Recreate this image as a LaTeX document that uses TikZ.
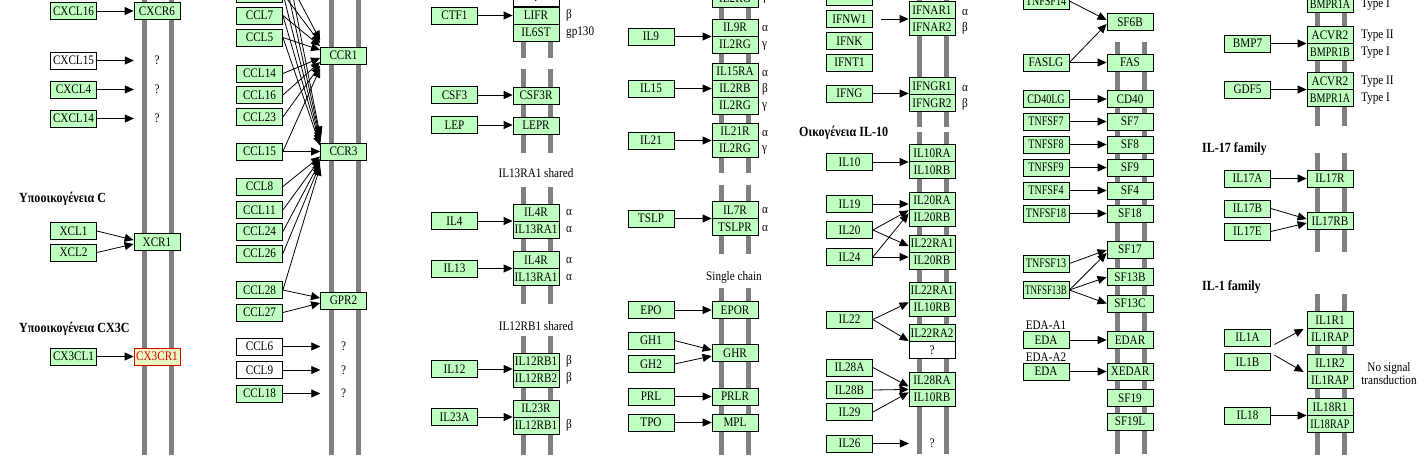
\documentclass[tikz,border=0pt]{standalone}
\usepackage{fontspec}
\setmainfont{Liberation Serif}[FakeStretch=0.86]
\usepackage{graphicx}
\usetikzlibrary{arrows.meta,calc}
\definecolor{kg}{HTML}{BFFFBF}
\definecolor{barc}{HTML}{808080}
\definecolor{kred}{HTML}{E00000}
\definecolor{kyel}{HTML}{E8F7C4}
\newcommand\kgfont{\fontsize{13}{13}\selectfont}
\newcommand\kgbold{\fontsize{14}{15}\selectfont\bfseries}
\newcommand\sq[1]{\scalebox{0.9}[1]{#1}}
\tikzset{
  base/.style={rectangle, draw=black, line width=0.8pt, minimum width=46pt, minimum height=17pt, inner sep=0pt, font=\kgfont},
  g/.style={base, fill=kg},
  w/.style={base, fill=white},
  rd/.style={base, fill=kyel, draw=kred, text=kred},
  q/.style={rectangle, minimum width=46pt, minimum height=17pt, inner sep=0pt, font=\kgfont},
  bar/.style={draw=barc, line width=5pt},
  arr/.style={draw=black, line width=0.8pt, -{Triangle[length=9pt,width=8pt]}},
  lab/.style={anchor=west, inner sep=0pt, font=\kgfont},
  ttl/.style={anchor=west, inner sep=0pt, font=\kgbold},
  ctr/.style={inner sep=0pt, font=\kgfont},
}
\begin{document}
\begin{tikzpicture}[x=1pt,y=-1pt]
\useasboundingbox (0,0) rectangle (1425,459);
\fill[white] (0,0) rectangle (1425,459);
\clip (0,0) rectangle (1425,459);
% ---------- membrane bars ----------
\foreach \x in {144.5,171.5,331.5,358.5} \draw[bar] (\x,0) -- (\x,455);
\foreach \x in {523.5,550.5}{\draw[bar] (\x,0)--(\x,58); \draw[bar] (\x,69)--(\x,153); \draw[bar] (\x,187)--(\x,304); \draw[bar] (\x,336)--(\x,455);}
\foreach \x in {721.5,748.5}{\draw[bar] (\x,0)--(\x,173); \draw[bar] (\x,185)--(\x,254); \draw[bar] (\x,288)--(\x,455);}
\foreach \x in {919.5,946.5}{\draw[bar] (\x,0)--(\x,127); \draw[bar] (\x,132)--(\x,454);}
\foreach \x in {1117.5,1144}{\draw[bar] (\x,42)--(\x,454);}
\foreach \x in {1317.5,1344}{\draw[bar] (\x,0)--(\x,126); \draw[bar] (\x,153)--(\x,252); \draw[bar] (\x,294)--(\x,455);}

% ---------- column 1 ----------
\node[g] (CXCL16) at (73.5,11) {CXCL16};
\node[g] (CXCR6) at (157,11) {CXCR6};
\node[w] (CXCL15) at (73.5,60.5) {CXCL15};
\node[q] (qa) at (157,60.5) {?};
\node[g] (CXCL4) at (73.5,89.5) {CXCL4};
\node[q] (qb) at (157,89.5) {?};
\node[g] (CXCL14) at (73.5,118.5) {CXCL14};
\node[q] (qc) at (157,118.5) {?};
\node[ttl] (tC) at (19,199) {Υποοικογένεια C};
\node[g] (XCL1) at (73.5,231) {XCL1};
\node[g] (XCL2) at (73.5,252.5) {XCL2};
\node[g] (XCR1) at (157,242) {XCR1};
\node[ttl] (tCX3C) at (19,329) {Υποοικογένεια CX3C};
\node[g] (CX3CL1) at (73.5,356.5) {CX3CL1};
\node[rd] (CX3CR1) at (157,356.5) {CX3CR1};
\draw[arr] (CXCL16) -- (CXCR6);
\draw[arr] (CXCL15) -- (qa);
\draw[arr] (CXCL4) -- (qb);
\draw[arr] (CXCL14) -- (qc);
\draw[arr] (XCL1.east) -- ($(XCR1.west)+(0,-2)$);
\draw[arr] (XCL2.east) -- ($(XCR1.west)+(0,2)$);
\draw[arr] (CX3CL1) -- (CX3CR1);

% ---------- column 2 ----------
\coordinate (ccla) at (283,-30);
\coordinate (cclb) at (283,-55);
\node[g] (CCLtop) at (259.5,-6.5) {};
\node[g] (CCL7) at (259.5,15.5) {CCL7};
\node[g] (CCL5) at (259.5,37.5) {CCL5};
\node[g] (CCL14) at (259.5,73.5) {CCL14};
\node[g] (CCL16) at (259.5,95) {CCL16};
\node[g] (CCL23) at (259.5,117) {CCL23};
\node[g] (CCL15) at (259.5,151.5) {CCL15};
\node[g] (CCL8) at (259.5,186.5) {CCL8};
\node[g] (CCL11) at (259.5,210) {CCL11};
\node[g] (CCL24) at (259.5,231.5) {CCL24};
\node[g] (CCL26) at (259.5,253.5) {CCL26};
\node[g] (CCL28) at (259.5,290) {CCL28};
\node[g] (CCL27) at (259.5,312.5) {CCL27};
\node[w] (CCL6) at (259.5,346.5) {CCL6};
\node[w] (CCL9) at (259.5,370) {CCL9};
\node[g] (CCL18) at (259.5,393.5) {CCL18};
\node[g] (CCR1) at (343.5,55.5) {CCR1};
\node[g] (CCR3) at (343.5,151.5) {CCR3};
\node[g] (GPR2) at (343.5,300.5) {GPR2};
\node[q] (qd) at (343.5,346.5) {?};
\node[q] (qe) at (343.5,370) {?};
\node[q] (qf) at (343.5,393.5) {?};
% to CCR1
\draw[arr] (ccla) -- ($(CCR1.west)+(0,-15.5)$);
\draw[arr] (CCLtop.east) -- ($(CCR1.west)+(0,-12.5)$);
\draw[arr] (CCL7.east) -- ($(CCR1.west)+(0,-9.5)$);
\draw[arr] (CCL5.east) -- ($(CCR1.west)+(0,-5.5)$);
\draw[arr] (CCL14.east) -- ($(CCR1.west)+(0,2.5)$);
\draw[arr] (CCL16.east) -- ($(CCR1.west)+(0,6.5)$);
\draw[arr] (CCL23.east) -- ($(CCR1.west)+(0,10)$);
\draw[arr] (CCL15.east) -- ($(CCR1.west)+(0,13)$);
% to CCR3
\draw[arr] (cclb) -- ($(CCR3.west)+(0,-16)$);
\draw[arr] (ccla) -- ($(CCR3.west)+(0,-13.5)$);
\draw[arr] (CCLtop.east) -- ($(CCR3.west)+(0,-11)$);
\draw[arr] (CCL7.east) -- ($(CCR3.west)+(0,-8.5)$);
\draw[arr] (CCL5.east) -- ($(CCR3.west)+(0,-6)$);
\draw[arr] (CCL15.east) -- (CCR3.west);
\draw[arr] (CCL8.east) -- ($(CCR3.west)+(0,5)$);
\draw[arr] (CCL11.east) -- ($(CCR3.west)+(0,7.5)$);
\draw[arr] (CCL24.east) -- ($(CCR3.west)+(0,10)$);
\draw[arr] (CCL26.east) -- ($(CCR3.west)+(0,12.5)$);
\draw[arr] (CCL28.east) -- ($(CCR3.west)+(0,15)$);
% to GPR2
\draw[arr] (CCL28.east) -- ($(GPR2.west)+(0,-2.5)$);
\draw[arr] (CCL27.east) -- ($(GPR2.west)+(0,2.5)$);
\draw[arr] (CCL6) -- (qd);
\draw[arr] (CCL9) -- (qe);
\draw[arr] (CCL18) -- (qf);

% ---------- column 3 ----------
\node[w] (topq) at (536,-2.5) {?};
\node[g] (LIFR) at (536,15.5) {LIFR};
\node[g] (IL6ST) at (536,32.5) {IL6ST};
\node[lab] at (566,15.5) {β};
\node[lab] at (566,33) {gp130};
\node[g] (CTF1) at (454.5,15.5) {CTF1};
\node[g] (CSF3) at (454.5,95) {CSF3};
\node[g] (CSF3R) at (536,95.5) {CSF3R};
\node[g] (LEP) at (454.5,125) {LEP};
\node[g] (LEPR) at (536,125.5) {LEPR};
\node[ctr] (sh1) at (536,173) {IL13RA1 shared};
\node[g] (IL4R) at (536,212.5) {IL4R};
\node[g] (IL13RA1) at (536,229.5) {IL13RA1};
\node[lab] at (566,212.5) {α};
\node[lab] at (566,229.5) {α};
\node[g] (IL4) at (454.5,221) {IL4};
\node[g] (IL4Rb) at (536,260) {IL4R};
\node[g] (IL13RA1b) at (536,277) {IL13RA1};
\node[lab] at (566,260) {α};
\node[lab] at (566,277) {α};
\node[g] (IL13) at (454.5,268.5) {IL13};
\node[ctr] (sh2) at (536,326) {IL12RB1 shared};
\node[g] (IL12RB1) at (536,361.5) {IL12RB1};
\node[g] (IL12RB2) at (536,378.5) {IL12RB2};
\node[lab] at (566,361.5) {β};
\node[lab] at (566,378.5) {β};
\node[g] (IL12) at (454.5,369) {IL12};
\node[g] (IL23R) at (536,408.5) {IL23R};
\node[g] (IL12RB1b) at (536,425.5) {IL12RB1};
\node[lab] at (566,425.5) {β};
\node[g] (IL23A) at (454.5,417) {IL23A};
\draw[arr] (CTF1) -- (LIFR);
\draw[arr] (CSF3.east) -- (CSF3.east -| CSF3R.west);
\draw[arr] (LEP.east) -- (LEP.east -| LEPR.west);
\draw[arr] (IL4.east) -- (IL4.east -| IL4R.west);
\draw[arr] (IL13.east) -- (IL13.east -| IL4Rb.west);
\draw[arr] (IL12.east) -- (IL12.east -| IL12RB1.west);
\draw[arr] (IL23A.east) -- (IL23A.east -| IL23R.west);

% ---------- column 4 ----------
\node[g] (IL2RGtop) at (735,-1.5) {IL2RG};
\node[lab] at (762,-1) {γ};
\node[g] (IL9R) at (735,27.5) {IL9R};
\node[g] (IL2RGa) at (735,44.5) {IL2RG};
\node[lab] at (762,28.5) {α};
\node[lab] at (762,45.5) {γ};
\node[g] (IL9) at (651,36.5) {IL9};
\node[g] (IL15RA) at (735,71.5) {IL15RA};
\node[g] (IL2RB) at (735,88.5) {IL2RB};
\node[g] (IL2RGb) at (735,105.5) {IL2RG};
\node[lab] at (762,73.5) {α};
\node[lab] at (762,89.5) {β};
\node[lab] at (762,107) {γ};
\node[g] (IL15) at (651,88.5) {IL15};
\node[g] (IL21R) at (735,131.5) {IL21R};
\node[g] (IL2RGc) at (735,148.5) {IL2RG};
\node[lab] at (762,133) {α};
\node[lab] at (762,150) {γ};
\node[g] (IL21) at (651,140.5) {IL21};
\node[g] (IL7R) at (735,210) {IL7R};
\node[g] (TSLPR) at (735,227) {TSLPR};
\node[lab] at (762,210.5) {α};
\node[lab] at (762,228) {α};
\node[g] (TSLP) at (651,218.5) {TSLP};
\node[ctr] (sc) at (734,277.5) {Single chain};
\node[g] (EPO) at (651,310) {EPO};
\node[g] (EPOR) at (735,310) {EPOR};
\node[g] (GH1) at (651,340.5) {GH1};
\node[g] (GH2) at (651,364) {GH2};
\node[g] (GHR) at (735,353) {GHR};
\node[g] (PRL) at (651,396.5) {PRL};
\node[g] (PRLR) at (735,396.5) {PRLR};
\node[g] (TPO) at (651,422.5) {TPO};
\node[g] (MPL) at (735,422.5) {MPL};
\draw[arr] (IL9.east) -- (IL9.east -| IL9R.west);
\draw[arr] (IL15.east) -- (IL15.east -| IL2RB.west);
\draw[arr] (IL21.east) -- (IL21.east -| IL21R.west);
\draw[arr] (TSLP.east) -- (TSLP.east -| IL7R.west);
\draw[arr] (EPO) -- (EPOR);
\draw[arr] (GH1.east) -- ($(GHR.west)+(0,-3)$);
\draw[arr] (GH2.east) -- ($(GHR.west)+(0,3)$);
\draw[arr] (PRL) -- (PRLR);
\draw[arr] (TPO) -- (MPL);

% ---------- column 5 ----------
\node[g] (IFNtop) at (849.5,-3.5) {};
\node[g] (IFNW1) at (849.5,19) {IFNW1};
\node[g] (IFNK) at (849.5,41) {IFNK};
\node[g] (IFNT1) at (849.5,62.5) {IFNT1};
\node[g] (IFNG) at (849.5,93.5) {IFNG};
\node[g] (IFNAR1) at (932,10) {IFNAR1};
\node[g] (IFNAR2) at (932,27) {IFNAR2};
\node[lab] at (962,12) {α};
\node[lab] at (962,28) {β};
\node[g] (IFNGR1) at (932,86) {IFNGR1};
\node[g] (IFNGR2) at (932,103) {IFNGR2};
\node[lab] at (962,88) {α};
\node[lab] at (962,104) {β};
\node[ttl] (t10) at (799,133) {Οικογένεια IL-10};
\node[g] (IL10RA) at (932,153) {IL10RA};
\node[g] (IL10RB) at (932,170) {IL10RB};
\node[g] (IL10) at (849.5,162) {IL10};
\node[g] (IL20RA) at (932,200.5) {IL20RA};
\node[g] (IL20RB) at (932,217.5) {IL20RB};
\node[g] (IL19) at (849.5,204) {IL19};
\node[g] (IL20) at (849.5,230) {IL20};
\node[g] (IL22RA1) at (932,243.5) {IL22RA1};
\node[g] (IL20RBb) at (932,260.5) {IL20RB};
\node[g] (IL24) at (849.5,257) {IL24};
\node[g] (IL22RA1b) at (932,290.5) {IL22RA1};
\node[g] (IL10RBb) at (932,307.5) {IL10RB};
\node[g] (IL22RA2) at (932,333) {IL22RA2};
\node[w] (qg) at (932,350) {?};
\node[g] (IL22) at (849.5,319.5) {IL22};
\node[g] (IL28RA) at (932,380.5) {IL28RA};
\node[g] (IL10RBc) at (932,397.5) {IL10RB};
\node[g] (IL28A) at (849.5,367.5) {IL28A};
\node[g] (IL28B) at (849.5,390) {IL28B};
\node[g] (IL29) at (849.5,412) {IL29};
\node[g] (IL26) at (849.5,443.5) {IL26};
\node[q] (qh) at (932,443.5) {?};
\draw[arr, shorten <=8pt] (IFNW1.east) -- (IFNW1.east -| IFNAR1.west);
\draw[arr] (IFNG.east) -- (IFNG.east -| IFNGR1.west);
\draw[arr] (IL10.east) -- (IL10.east -| IL10RA.west);
\draw[arr] (IL19.east) -- (IL19.east -| IL20RA.west);
\draw[arr] (IL20.east) -- ($(IL20RA.south west)+(0,1)$);
\draw[arr] (IL20.east) -- ($(IL22RA1.west)+(0,2.5)$);
\draw[arr] (IL24.east) -- ($(IL20RA.south west)+(0,4)$);
\draw[arr] (IL24.east) -- (IL24.east -| IL20RBb.west);
\draw[arr] (IL22.east) -- ($(IL22RA1b.south west)+(0,3)$);
\draw[arr] (IL22.east) -- ($(IL22RA2.west)+(0,8)$);
\draw[arr] (IL28A.east) -- ($(IL28RA.south west)+(0,-3)$);
\draw[arr] (IL28B.east) -- (IL28RA.south west);
\draw[arr] (IL29.east) -- ($(IL28RA.south west)+(0,3)$);
\draw[arr] (IL26) -- (qh);

% ---------- column 6 ----------
\node[g] (TNFSF14) at (1046,1) {\sq{TNFSF14}};
\node[g] (SF6B) at (1130,22) {SF6B};
\node[g] (FASLG) at (1046,62.5) {FASLG};
\node[g] (FAS) at (1130,62.5) {FAS};
\node[g] (CD40LG) at (1046,99) {\sq{CD40LG}};
\node[g] (CD40) at (1130,99) {CD40};
\node[g] (TNFSF7) at (1046,121.5) {\sq{TNFSF7}};
\node[g] (SF7) at (1130,121.5) {SF7};
\node[g] (TNFSF8) at (1046,144.5) {\sq{TNFSF8}};
\node[g] (SF8) at (1130,144.5) {SF8};
\node[g] (TNFSF9) at (1046,167.5) {\sq{TNFSF9}};
\node[g] (SF9) at (1130,167.5) {SF9};
\node[g] (TNFSF4) at (1046,190.5) {\sq{TNFSF4}};
\node[g] (SF4) at (1130,190.5) {SF4};
\node[g] (TNFSF18) at (1046,213.5) {\sq{TNFSF18}};
\node[g] (SF18) at (1130,213.5) {SF18};
\node[g] (SF17) at (1130,249.5) {SF17};
\node[g] (TNFSF13) at (1046,263.5) {\sq{TNFSF13}};
\node[g] (SF13B) at (1130,277) {SF13B};
\node[g] (TNFSF13B) at (1046,290) {\scalebox{0.8}[1]{TNFSF13B}};
\node[g] (SF13C) at (1130,303.5) {SF13C};
\node[ctr] (edaa1) at (1046,325) {EDA-A1};
\node[g] (EDA1) at (1046,340) {EDA};
\node[g] (EDAR) at (1130,340) {EDAR};
\node[ctr] (edaa2) at (1046,357.5) {EDA-A2};
\node[g] (EDA2) at (1046,371.5) {EDA};
\node[g] (XEDAR) at (1130,371.5) {XEDAR};
\node[g] (SF19) at (1130,398) {SF19};
\node[g] (SF19L) at (1130,421.5) {SF19L};
\draw[arr] (TNFSF14.east) -- ($(SF6B.west)+(0,-2)$);
\draw[arr] (FASLG.east) -- ($(SF6B.west)+(0,2)$);
\draw[arr] (FASLG) -- (FAS);
\draw[arr] (CD40LG) -- (CD40);
\draw[arr] (TNFSF7) -- (SF7);
\draw[arr] (TNFSF8) -- (SF8);
\draw[arr] (TNFSF9) -- (SF9);
\draw[arr] (TNFSF4) -- (SF4);
\draw[arr] (TNFSF18) -- (SF18);
\draw[arr] (TNFSF13.east) -- ($(SF17.west)+(0,0.5)$);
\draw[arr] (TNFSF13B.east) -- ($(SF17.west)+(0,3.5)$);
\draw[arr] (TNFSF13B.east) -- (SF13B.west);
\draw[arr] (TNFSF13B.east) -- (SF13C.west);
\draw[arr] (EDA1) -- (EDAR);
\draw[arr] (EDA2) -- (XEDAR);

% ---------- column 7 ----------
\node[g] (BMPR1Atop) at (1330,4) {\sq{BMPR1A}};
\node[lab] at (1361,5) {Type I};
\node[g] (ACVR2) at (1330,35) {ACVR2};
\node[g] (BMPR1B) at (1330,52) {\sq{BMPR1B}};
\node[lab] at (1361,36) {Type II};
\node[lab] at (1361,52.5) {Type I};
\node[g] (BMP7) at (1247.5,43.5) {BMP7};
\node[g] (ACVR2b) at (1330,81) {ACVR2};
\node[g] (BMPR1A) at (1330,98) {\sq{BMPR1A}};
\node[lab] at (1361,81.5) {Type II};
\node[lab] at (1361,99) {Type I};
\node[g] (GDF5) at (1247.5,89.5) {GDF5};
\node[ttl] (t17) at (1202,149) {IL-17 family};
\node[g] (IL17A) at (1247.5,178.5) {IL17A};
\node[g] (IL17R) at (1330,178.5) {IL17R};
\node[g] (IL17B) at (1247.5,208.5) {IL17B};
\node[g] (IL17E) at (1247.5,231.5) {IL17E};
\node[g] (IL17RB) at (1330,221) {IL17RB};
\node[ttl] (t1) at (1202,287) {IL-1 family};
\node[g] (IL1R1) at (1330,320) {IL1R1};
\node[g] (IL1RAP) at (1330,337) {IL1RAP};
\node[g] (IL1R2) at (1330,363) {IL1R2};
\node[g] (IL1RAPb) at (1330,380) {IL1RAP};
\node[g] (IL1A) at (1247.5,337.5) {IL1A};
\node[g] (IL1B) at (1247.5,362) {IL1B};
\node[ctr, align=center, font=\fontsize{13}{11}\selectfont] (nosig) at (1389,373.5) {No signal\\transduction};
\node[g] (IL18R1) at (1330,407) {IL18R1};
\node[g] (IL18RAP) at (1330,424) {\sq{IL18RAP}};
\node[g] (IL18) at (1247.5,415.5) {IL18};
\draw[arr] (BMP7.east) -- (BMP7.east -| ACVR2.west);
\draw[arr] (GDF5.east) -- (GDF5.east -| ACVR2b.west);
\draw[arr] (IL17A) -- (IL17R);
\draw[arr] (IL17B.east) -- ($(IL17RB.west)+(0,-2)$);
\draw[arr] (IL17E.east) -- ($(IL17RB.west)+(0,2)$);
\draw[arr, shorten <=4pt] (IL1A.south east) -- ($(IL1R1.south west)+(-3,0)$);
\draw[arr, shorten <=4pt] (IL1B.north east) -- ($(IL1R2.south west)+(-3,0)$);
\draw[arr] (IL18.east) -- (IL18.east -| IL18R1.west);
\end{tikzpicture}
\end{document}
